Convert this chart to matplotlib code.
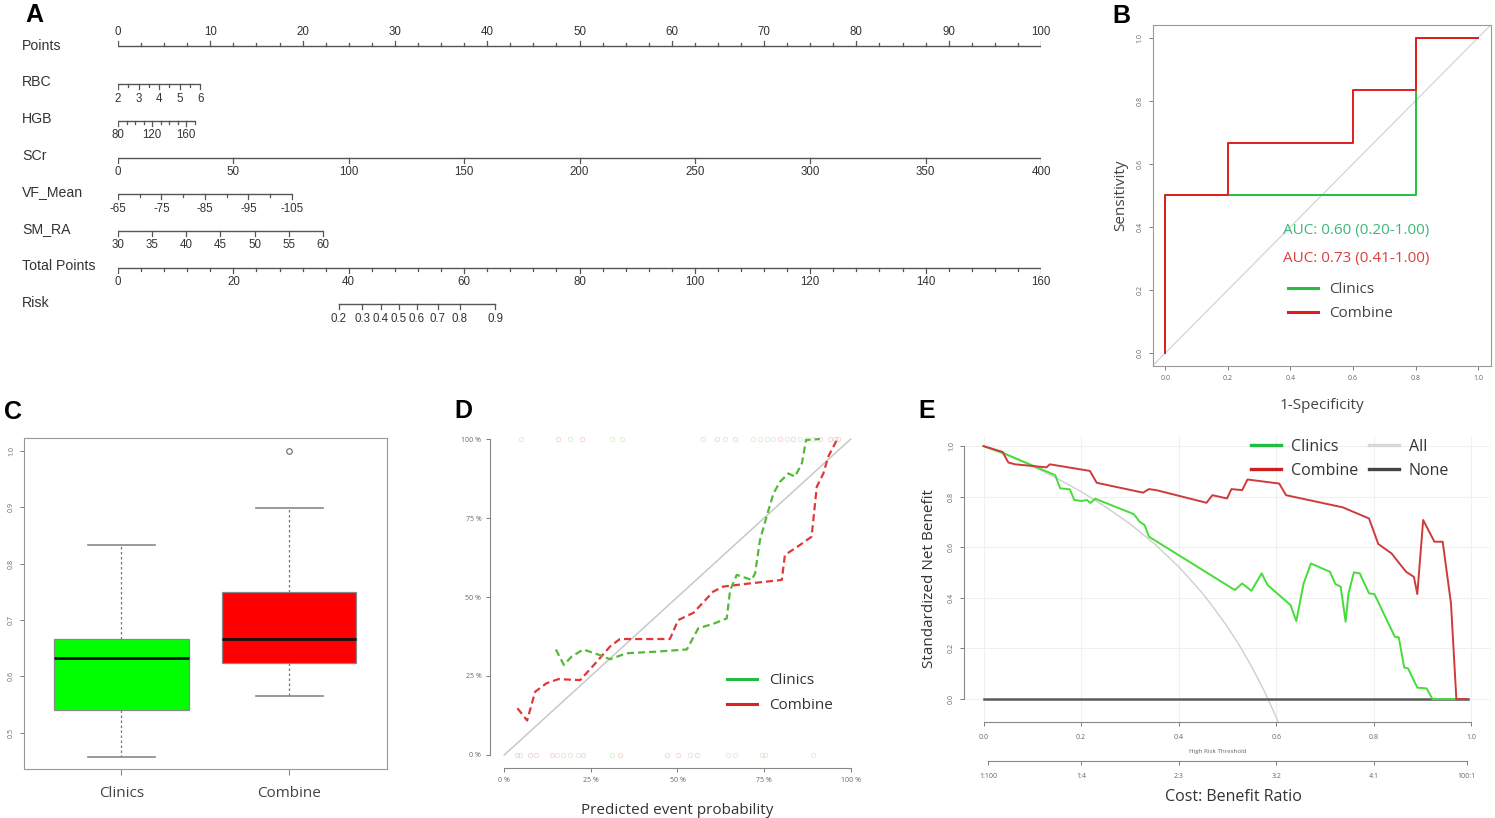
import numpy as np
import matplotlib
matplotlib.use('Agg')
from matplotlib import pyplot as plt
from matplotlib.lines import Line2D

W, H = 1495, 818
plt.rcParams['font.family'] = ['Open Sans', 'DejaVu Sans']

# ---------------- data ----------------
# A nomogram (points axis 0-100, variable scales)
pts_ticks = np.arange(0, 100.1, 2.5)
pts_labels = list(range(0, 101, 10))
rbc_ticks = [2, 2.5, 3, 3.5, 4, 4.5, 5, 5.5, 6]
rbc_labels = [2, 3, 4, 5, 6]
rbc_end = (2, 6, 8.9)            # value at 0 pts, value at pts, pts
hgb_ticks = list(range(80, 171, 10))
hgb_labels = [80, 120, 160]
hgb_end = (80, 160, 7.4)
scr_ticks = list(range(0, 401, 50))
scr_labels = scr_ticks
scr_end = (0, 400, 100)
vf_ticks = list(range(-65, -106, -5))
vf_labels = [-65, -75, -85, -95, -105]
vf_end = (-65, -105, 18.85)
sm_ticks = list(range(30, 61, 5))
sm_labels = sm_ticks
sm_end = (30, 60, 22.2)
tot_ticks = list(range(0, 161, 4))
tot_labels = list(range(0, 161, 20))
tot_max = 160
risk_labels = [0.2, 0.3, 0.4, 0.5, 0.6, 0.7, 0.8, 0.9]
risk_total = [38.3, 42.3, 45.6, 48.7, 51.8, 55.4, 59.2, 65.4]

# B ROC
roc_clin_fpr = [0, 0, 0.2, 0.8, 0.8, 0.8, 1.0]
roc_clin_tpr = [0, 0.5, 0.5, 0.5, 0.833, 1.0, 1.0]
roc_comb_fpr = [0, 0, 0.2, 0.2, 0.6, 0.6, 0.8, 0.8, 1.0]
roc_comb_tpr = [0, 0.5, 0.5, 0.667, 0.667, 0.833, 0.833, 1.0, 1.0]
auc_text = ['AUC: 0.60 (0.20-1.00)', 'AUC: 0.73 (0.41-1.00)']

# C boxplot
box_names = ['Clinics', 'Combine']
box_q1 = [0.541, 0.624]
box_med = [0.633, 0.666]
box_q3 = [0.666, 0.749]
box_lo = [0.458, 0.566]
box_hi = [0.833, 0.899]
box_fliers = [[], [1.0]]

# D calibration
cal_clin_pred = [0.149, 0.172, 0.194, 0.228, 0.276, 0.305, 0.353, 0.44, 0.527, 0.56, 0.603, 0.642, 0.652,
                 0.671, 0.714, 0.724, 0.738, 0.757, 0.777, 0.796, 0.82, 0.839, 0.859, 0.871, 0.911]
cal_clin_obs = [0.334, 0.285, 0.311, 0.334, 0.316, 0.303, 0.322, 0.327, 0.334, 0.401, 0.415, 0.432, 0.522,
                0.57, 0.554, 0.575, 0.68, 0.754, 0.828, 0.865, 0.891, 0.881, 0.923, 0.997, 1.0]
cal_comb_pred = [0.038, 0.066, 0.089, 0.122, 0.156, 0.219, 0.267, 0.305, 0.334, 0.478, 0.502, 0.546, 0.603,
                 0.632, 0.709, 0.801, 0.81, 0.854, 0.887, 0.902, 0.921, 0.935, 0.96]
cal_comb_obs = [0.148, 0.109, 0.2, 0.227, 0.24, 0.237, 0.295, 0.343, 0.367, 0.367, 0.427, 0.45, 0.517,
                0.533, 0.543, 0.554, 0.633, 0.665, 0.691, 0.849, 0.891, 0.944, 0.997]
rug_top_clin = [0.047, 0.19, 0.31, 0.339, 0.574, 0.637, 0.719, 0.738, 0.757, 0.777, 0.815, 0.853, 0.873, 0.892]
rug_top_comb = [0.156, 0.223, 0.613, 0.666, 0.796, 0.834, 0.911, 0.94, 0.955, 0.964]
rug_bot_clin = [0.045, 0.151, 0.17, 0.19, 0.214, 0.31, 0.536, 0.647, 0.666, 0.743, 0.752, 0.892]
rug_bot_comb = [0.038, 0.074, 0.093, 0.137, 0.228, 0.334, 0.469, 0.502, 0.555]

# E decision curve
dca_clin_t = [0, 0.039, 0.147, 0.157, 0.177, 0.186, 0.201, 0.212, 0.219, 0.229, 0.308, 0.32, 0.33, 0.339,
              0.515, 0.53, 0.549, 0.57, 0.582, 0.629, 0.641, 0.656, 0.671, 0.71, 0.721, 0.732, 0.742, 0.748,
              0.759, 0.771, 0.79, 0.801, 0.843, 0.851, 0.862, 0.87, 0.889, 0.908, 0.92, 0.969]
dca_clin_nb = [1.0, 0.974, 0.885, 0.833, 0.829, 0.787, 0.783, 0.787, 0.775, 0.792, 0.731, 0.701, 0.688, 0.642,
               0.431, 0.457, 0.428, 0.497, 0.451, 0.372, 0.308, 0.457, 0.536, 0.503, 0.455, 0.444, 0.306, 0.418,
               0.501, 0.497, 0.418, 0.415, 0.246, 0.244, 0.125, 0.121, 0.045, 0.042, 0.0, 0.0]
dca_comb_t = [0, 0.039, 0.051, 0.065, 0.129, 0.136, 0.218, 0.232, 0.327, 0.339, 0.354, 0.457, 0.469, 0.499,
              0.508, 0.53, 0.541, 0.606, 0.62, 0.736, 0.79, 0.809, 0.836, 0.866, 0.882, 0.889, 0.901, 0.924,
              0.941, 0.958, 0.969, 0.99]
dca_comb_nb = [1.0, 0.977, 0.935, 0.928, 0.916, 0.928, 0.902, 0.855, 0.816, 0.83, 0.826, 0.776, 0.806, 0.793,
               0.83, 0.826, 0.868, 0.852, 0.806, 0.758, 0.714, 0.613, 0.576, 0.503, 0.483, 0.415, 0.708, 0.622,
               0.622, 0.378, 0.0, 0.0]
dca_all_t = [0, 0.05, 0.1, 0.15, 0.2, 0.25, 0.3, 0.35, 0.4, 0.425, 0.45, 0.475, 0.5, 0.525, 0.55, 0.575,
             0.6, 0.61]
dca_all_nb = [1.0, 0.962, 0.921, 0.873, 0.82, 0.76, 0.693, 0.614, 0.523, 0.47, 0.415, 0.352, 0.285, 0.21,
              0.126, 0.033, -0.072, -0.118]
dca_none_t = [0, 0.993]
dca_none_nb = [0, 0]
cb_cost = [1, 1, 2, 3, 4, 100]
cb_benefit = [100, 4, 3, 2, 1, 1]

GREEN_B = '#22c03c'
RED_B = '#dd1f1f'
TXT = '#333333'
TICKC = '#666666'


def pax(l, t, r, b):
    # axes from pixel box
    return fig.add_axes([l / W, 1 - b / H, (r - l) / W, (b - t) / H])


def ftext(x, y, s, **kw):
    fig.text(x / W, 1 - y / H, s, **kw)


fig = plt.figure(figsize=(W / 100, H / 100), dpi=100)

# ---------------- A ----------------
axA = pax(118, 0, 1041, 340)
axA.set_xlim(0, 100)
axA.set_ylim(340, 0)
axA.axis('off')
lc = '#555555'


def ruler(y, ticks, labels, to_pts, ylab, up=False, name=None, ylab_name=None):
    xs = [to_pts(v) for v in ticks]
    axA.plot([min(xs), max(xs)], [y, y], color=lc, lw=1, solid_capstyle='butt')
    d = -1 if up else 1
    for v, x in zip(ticks, xs):
        ln = 5 if v in labels else 3
        axA.plot([x, x], [y, y + d * ln], color=lc, lw=0.9)
    for v in labels:
        s = ('%g' % v)
        axA.text(to_pts(v), ylab, s, ha='center', va='center', fontsize=8.3,
                 family='Liberation Sans', color=TXT)
    if name:
        axA.text(-10.4, ylab_name, name, ha='left', va='center', fontsize=10.2,
                 family='Liberation Sans', color=TXT, clip_on=False)


def lin(end):
    v0, v1, p1 = end
    return lambda v: (v - v0) / (v1 - v0) * p1


ruler(46, list(pts_ticks), pts_labels, lambda v: v, 32, up=True, name='Points', ylab_name=46)
ruler(84, rbc_ticks, rbc_labels, lin(rbc_end), 99, name='RBC', ylab_name=82)
ruler(121, hgb_ticks, hgb_labels, lin(hgb_end), 135, name='HGB', ylab_name=119)
ruler(158, scr_ticks, scr_labels, lin(scr_end), 172, name='SCr', ylab_name=156)
ruler(194, vf_ticks, vf_labels, lin(vf_end), 209, name='VF_Mean', ylab_name=192)
ruler(231, sm_ticks, sm_labels, lin(sm_end), 245, name='SM_RA', ylab_name=229)
ruler(268, tot_ticks, tot_labels, lambda v: v / tot_max * 100, 282, name='Total Points', ylab_name=266)
# risk scale
rx = [t / tot_max * 100 for t in risk_total]
axA.plot([rx[0], rx[-1]], [304, 304], color=lc, lw=1)
for x, v in zip(rx, risk_labels):
    axA.plot([x, x], [304, 309], color=lc, lw=0.9)
    axA.text(x, 319, '%g' % v, ha='center', va='center', fontsize=8.3, family='Liberation Sans', color=TXT)
axA.text(-10.4, 303, 'Risk', ha='left', va='center', fontsize=10.2, family='Liberation Sans',
         color=TXT, clip_on=False)

# ---------------- B ----------------
axB = pax(1152.7, 25, 1490.7, 365.7)
axB.set_xlim(-0.04, 1.04)
axB.set_ylim(-0.04, 1.04)
axB.axline((0, 0), (1, 1), color='#d4d4d4', lw=0.9, zorder=1)
axB.plot(roc_clin_fpr, roc_clin_tpr, color=GREEN_B, lw=1.4, zorder=2)
axB.plot(roc_comb_fpr, roc_comb_tpr, color=RED_B, lw=1.4, zorder=3)
axB.set_xticks(np.arange(0, 1.01, 0.2))
axB.set_yticks(np.arange(0, 1.01, 0.2))
axB.set_xticklabels(['%.1f' % v for v in np.arange(0, 1.01, 0.2)])
axB.set_yticklabels(['%.1f' % v for v in np.arange(0, 1.01, 0.2)], rotation=90, va='center')
axB.tick_params(labelsize=5, colors=TICKC, length=3, width=0.6)
for s in axB.spines.values():
    s.set_color('#999999')
axB.text(0.376, 0.39, auc_text[0], color='#3cb878', fontsize=11, va='center')
axB.text(0.376, 0.30, auc_text[1], color='#d94040', fontsize=11, va='center')
hB = [Line2D([], [], color=GREEN_B, lw=2.2), Line2D([], [], color=RED_B, lw=2.2)]
axB.legend(hB, box_names, loc='upper left', bbox_to_anchor=(0.40, 0.246), frameon=False, fontsize=11,
           handlelength=2.0, handletextpad=0.7, labelspacing=0.6, borderpad=0, borderaxespad=0,
           labelcolor='#444444')
axB.set_ylabel('Sensitivity', fontsize=11, color='#444444', labelpad=6)
axB.set_xlabel('1-Specificity', fontsize=11, color='#444444', labelpad=12)

# ---------------- C ----------------
axC = pax(24, 438.3, 386.7, 769)
stats = []
for i in range(2):
    stats.append(dict(med=box_med[i], q1=box_q1[i], q3=box_q3[i], whislo=box_lo[i], whishi=box_hi[i],
                      fliers=box_fliers[i], label=box_names[i]))
bp = axC.bxp(stats, positions=[1, 2], widths=0.8, capwidths=0.4, patch_artist=True,
             boxprops=dict(edgecolor='#888888', lw=0.9),
             whiskerprops=dict(color='#777777', lw=0.9, ls=(0, (2, 2))),
             capprops=dict(color='#888888', lw=1.2),
             medianprops=dict(color='#111111', lw=2),
             flierprops=dict(marker='o', mfc='none', mec='#666666', ms=4, mew=0.8))
for p, c in zip(bp['boxes'], ['#00ff00', '#ff0000']):
    p.set_facecolor(c)
axC.set_xlim(0.42, 2.58)
axC.set_ylim(0.436, 1.022)
axC.set_yticks(np.arange(0.5, 1.01, 0.1))
axC.set_yticklabels(['%.1f' % v for v in np.arange(0.5, 1.01, 0.1)], rotation=90, va='center')
axC.tick_params(axis='y', labelsize=5, colors=TICKC, length=3, width=0.6)
axC.tick_params(axis='x', labelsize=11, labelcolor='#444444', color='#888888', length=4, pad=8)
for s in axC.spines.values():
    s.set_color('#999999')

# ---------------- D ----------------
axD = pax(490.4, 426.4, 864.6, 767.6)
axD.set_xlim(-0.04, 1.04)
axD.set_ylim(-0.04, 1.04)
axD.plot([0, 1], [0, 1], color='#c8c8c8', lw=1.1, zorder=1)
axD.plot(cal_clin_pred, cal_clin_obs, color='#55b83a', lw=1.6, dashes=(3.2, 1.8), zorder=3)
axD.plot(cal_comb_pred, cal_comb_obs, color='#e03838', lw=1.6, dashes=(3.2, 1.8), zorder=2)
axD.plot(rug_top_clin, [1] * len(rug_top_clin), 'o', mfc='none', mec='#8ccf7a', ms=3.2, mew=0.6, alpha=0.35)
axD.plot(rug_top_comb, [1] * len(rug_top_comb), 'o', mfc='none', mec='#e08080', ms=3.2, mew=0.6, alpha=0.35)
axD.plot(rug_bot_clin, [0] * len(rug_bot_clin), 'o', mfc='none', mec='#8ccf7a', ms=3.2, mew=0.6, alpha=0.35)
axD.plot(rug_bot_comb, [0] * len(rug_bot_comb), 'o', mfc='none', mec='#e08080', ms=3.2, mew=0.6, alpha=0.35)
for k in ['top', 'right']:
    axD.spines[k].set_visible(False)
for k in ['left', 'bottom']:
    axD.spines[k].set_bounds(0, 1)
    axD.spines[k].set_color('#888888')
dt = [0, 0.25, 0.5, 0.75, 1.0]
axD.set_xticks(dt)
axD.set_yticks(dt)
axD.set_xticklabels(['%d %%' % (v * 100) for v in dt])
axD.set_yticklabels(['%d %%' % (v * 100) for v in dt])
axD.tick_params(labelsize=5, colors=TICKC, length=3, width=0.6)
hD = [Line2D([], [], color='#22bb44', lw=2.2), Line2D([], [], color='#dd2222', lw=2.2)]
axD.legend(hD, box_names, loc='upper left', bbox_to_anchor=(0.632, 0.277), frameon=False, fontsize=11,
           handlelength=2.0, handletextpad=0.75, labelspacing=0.65, borderpad=0, borderaxespad=0,
           labelcolor='#333333')
axD.set_xlabel('Predicted event probability', fontsize=11, color='#333333', labelpad=14)

# ---------------- E ----------------
axE = pax(964, 436, 1491, 721.8)
axE.set_xlim(-0.04, 1.04)
axE.set_ylim(-0.09, 1.04)
axE.set_xticks(np.arange(0, 1.01, 0.2))
axE.set_yticks(np.arange(0, 1.01, 0.2))
axE.grid(color='#f0f0f0', lw=0.8)
axE.set_axisbelow(True)
axE.plot(dca_all_t, dca_all_nb, color='#cfcfcf', lw=1.0, zorder=2)
axE.plot(dca_none_t, dca_none_nb, color='#5a5a5a', lw=1.8, zorder=2)
axE.plot(dca_clin_t, dca_clin_nb, color='#44dd3a', lw=1.4, zorder=3)
axE.plot(dca_comb_t, dca_comb_nb, color='#cf3a3a', lw=1.4, zorder=4)
for k in ['top', 'right']:
    axE.spines[k].set_visible(False)
for k in ['left', 'bottom']:
    axE.spines[k].set_bounds(0, 1)
    axE.spines[k].set_color('#888888')
axE.set_xticklabels(['%.1f' % v for v in np.arange(0, 1.01, 0.2)])
axE.set_yticklabels(['%.1f' % v for v in np.arange(0, 1.01, 0.2)], rotation=90, va='center')
axE.tick_params(labelsize=5, colors=TICKC, length=3, width=0.6)
axE.tick_params(axis='x', pad=6)
hE = [Line2D([], [], color='#22bb44', lw=2.4), Line2D([], [], color='#cc1f1f', lw=2.4),
      Line2D([], [], color='#d8d8d8', lw=2.4), Line2D([], [], color='#444444', lw=2.4)]
axE.legend(hE, ['Clinics', 'Combine', 'All', 'None'], ncol=2, loc='upper left',
           bbox_to_anchor=(0.544, 0.99), frameon=False, fontsize=11.5, handlelength=1.9,
           handletextpad=0.6, labelspacing=0.5, columnspacing=0.7, borderpad=0, borderaxespad=0,
           labelcolor='#333333')
axE.set_ylabel('Standardized Net Benefit', fontsize=11, color='#333333', labelpad=8)

# cost:benefit axis
axE2 = pax(964, 760, 1491, 761)
axE2.set_xlim(-0.04, 1.04)
axE2.patch.set_visible(False)
for k in ['top', 'right', 'left']:
    axE2.spines[k].set_visible(False)
cb_t = [c / (c + b) for c, b in zip(cb_cost, cb_benefit)]
axE2.spines['bottom'].set_bounds(cb_t[0], cb_t[-1])
axE2.spines['bottom'].set_color('#888888')
axE2.set_yticks([])
axE2.set_xticks(cb_t)
axE2.set_xticklabels(['%d:%d' % (c, b) for c, b in zip(cb_cost, cb_benefit)])
axE2.tick_params(labelsize=5, colors=TICKC, length=3, width=0.6, pad=6)

ftext(1218, 751, 'High Risk Threshold', fontsize=4.5, color='#666666', ha='center', va='center')
ftext(1233, 797, 'Cost: Benefit Ratio', fontsize=11.5, color='#333333', ha='center', va='center')

# panel letters
for s, x, y in [('A', 34, 15), ('B', 1121, 16), ('C', 13, 412), ('D', 463, 411), ('E', 927, 411)]:
    ftext(x, y, s, fontsize=18, fontweight='bold', family='Liberation Sans', ha='center', va='center')

fig.savefig('out.png', dpi=100)
